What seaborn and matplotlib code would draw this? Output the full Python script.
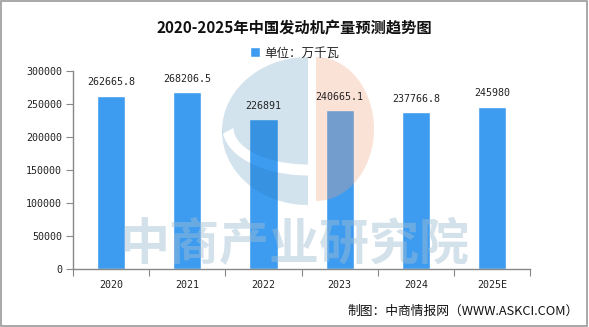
import numpy as np
import pandas as pd
import seaborn as sns
import matplotlib.pyplot as plt
from matplotlib.patches import Rectangle, Polygon
from matplotlib.transforms import IdentityTransform

years = ["2020", "2021", "2022", "2023", "2024", "2025E"]
output = [262665.8, 268206.5, 226891, 240665.1, 237766.8, 245980]
value_labels = ["262665.8", "268206.5", "226891", "240665.1", "237766.8", "245980"]
y_ticks = [0, 50000, 100000, 150000, 200000, 250000, 300000]

title = "2020-2025年中国发动机产量预测趋势图"
unit = "单位：万千瓦"
source = "制图：中商情报网（WWW.ASKCI.COM）"
watermark = "中商产业研究院"

bar_color = "#3d9cf0"
cjk = ["Noto Sans CJK SC", "DejaVu Sans"]
mono = ["DejaVu Sans Mono", "Noto Sans CJK SC"]

H = 327  # image height in pixels, for the watermark outline


def arc(cx, cy, rx, ry, t0, t1, n=50):
    # points of an elliptical arc in pixels, y counted from the top
    t = np.linspace(t0, t1, n)
    return np.column_stack([cx + rx * np.cos(t), H - (cy - ry * np.sin(t))])


def logo_pieces():
    cx, cy, rx, ry = 308, 131, 86, 74
    sx, sy, srx, sry, w = 308, 128, 80, 42, 11
    # where the outer ellipse crosses the swoosh start line
    tc = np.pi + np.arcsin((cy - sy) / ry)
    upper = np.vstack([
        arc(cx, cy, rx, ry, np.pi / 2, tc),
        arc(sx, sy, srx - w / 2, sry - w / 2, np.pi, 1.5 * np.pi),
    ])
    lower = np.vstack([
        arc(cx, cy, rx, ry, tc, 1.5 * np.pi),
        arc(sx, sy, srx + w / 2, sry + w / 2, 1.5 * np.pi, np.pi),
    ])
    right = arc(316, 129, 58, 72, -np.pi / 2, np.pi / 2)
    return upper, lower, right


def main():
    sns.set_style("white")
    plt.rcParams["font.family"] = cjk

    df = pd.DataFrame({"year": years, "output": output})

    fig = plt.figure(figsize=(5.89, 3.27), dpi=100)
    ax = fig.add_axes([0.124, 0.177, 0.776, 0.606])

    sns.barplot(data=df, x="year", y="output", color=bar_color, width=0.37,
                saturation=1, label=unit, ax=ax)

    ax.bar_label(ax.containers[0], labels=value_labels, padding=6,
                 fontsize=7.2, family=mono, color="#222222", zorder=4)

    ax.set_xlim(-0.5, len(years) - 0.5)
    ax.set_ylim(0, 300000)
    ax.set_yticks(y_ticks)
    ax.set_yticklabels([str(v) for v in y_ticks], family=mono, fontsize=7.2,
                       color="#222222")
    ax.set_xticks(np.arange(-0.5, len(years), 1))
    ax.set_xticklabels([])
    ax.set_xticks(np.arange(len(years)), minor=True)
    ax.set_xticklabels(years, minor=True, family=mono, fontsize=7.2,
                       color="#222222")
    ax.tick_params(axis="x", which="major", length=5, color="#888888",
                   direction="out", bottom=True)
    ax.tick_params(axis="x", which="minor", length=0, pad=8)
    ax.tick_params(axis="y", length=5, color="#888888", direction="out",
                   left=True, pad=3)
    ax.set_xlabel("")
    ax.set_ylabel("")
    for side in ["top", "right"]:
        ax.spines[side].set_visible(False)
    for side in ["left", "bottom"]:
        ax.spines[side].set_color("#888888")
        ax.spines[side].set_linewidth(1)

    fig.text(0.5, 0.915, title, ha="center", va="center", fontsize=11,
             fontweight="bold", color="#111111")
    ax.legend(loc="center", bbox_to_anchor=(0.5, 0.838),
              bbox_transform=fig.transFigure, frameon=False, fontsize=9,
              handlelength=0.8, handleheight=0.8, handletextpad=0.4)
    fig.text(0.982, 0.047, source, ha="right", va="center", fontsize=9.2,
             color="#111111")

    # faint watermark logo, over the bars but under the labels
    upper, lower, right = logo_pieces()
    for pts, fc, a in [(upper, "#2373aa", 0.2), (lower, "#2373aa", 0.2),
                       (right, "#f2a27d", 0.3)]:
        p = Polygon(pts, closed=True, facecolor=fc, edgecolor="none", alpha=a,
                    transform=IdentityTransform(), clip_on=False, zorder=2.5)
        ax.add_patch(p)
    ax.text(0.5, 0.25, watermark, transform=fig.transFigure, ha="center",
            va="center", fontsize=36, fontweight="bold", color="#9fbdd4",
            alpha=0.45, zorder=2.6)

    fig.patches.append(Rectangle((0.002, 0.003), 0.995, 0.993,
                                 transform=fig.transFigure, fill=False,
                                 edgecolor="#999999", lw=1.2))

    fig.savefig("out.png", dpi=100)


main()
